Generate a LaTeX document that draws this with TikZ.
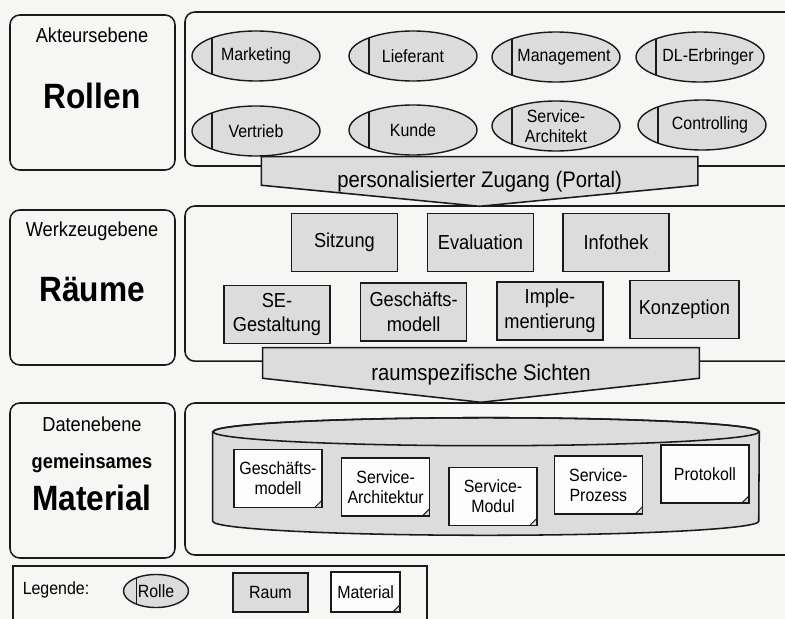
\documentclass[tikz,border=0pt]{standalone}
\usepackage{fontspec}
\setmainfont{Liberation Sans}[FakeStretch=0.9]
\usepackage{xcolor}
\usepackage{tikz}
\usetikzlibrary{shapes.geometric, calc, positioning}
\definecolor{paper}{HTML}{F6F6F4}
\definecolor{lgray}{HTML}{1A1A1A}
\definecolor{raumbg}{HTML}{DCDCDC}
\definecolor{matbg}{HTML}{FDFDFD}
\newcommand{\fsSmall}{\fontsize{12.6}{14.5}\selectfont}
\newcommand{\fsMid}{\fontsize{14.4}{17.5}\selectfont}
\newcommand{\fsBanner}{\fontsize{16}{19}\selectfont}
\newcommand{\fsTitle}{\fontsize{25}{28}\selectfont\bfseries}
\tikzset{
  level/.style={rectangle, rounded corners=7pt, draw=lgray, line width=1.1pt,
    minimum width=4.125cm, minimum height=3.875cm},
  panel/.style={rectangle, rounded corners=7pt, draw=lgray, line width=1.1pt,
    minimum width=15.875cm},
  lvlname/.style={font=\fsMid, inner sep=0pt},
  lvltitle/.style={font=\fsTitle, inner sep=0pt},
  rolle/.style={ellipse, draw=lgray, line width=1pt, fill=raumbg,
    align=center, font=\fsSmall, minimum width=3.2cm, minimum height=1.25cm,
    inner xsep=-2pt, inner ysep=0pt,
    path picture={\draw[lgray, line width=1pt]
      ([xshift=#1]path picture bounding box.north west) --
      ([xshift=#1]path picture bounding box.south west);}},
  rolle/.default=0.5cm,
  rolleshift/.style={inner xsep=-0.25cm, execute at begin node={\hspace*{0.4cm}}},
  raum/.style={rectangle, draw=lgray, line width=1pt, fill=raumbg,
    align=center, font=\fsMid, minimum width=2.65cm, minimum height=1.45cm,
    inner sep=1pt},
  mat/.style={rectangle, draw=lgray, line width=1pt, fill=matbg,
    align=center, font=\fsSmall, minimum width=2.2cm, minimum height=1.45cm,
    inner sep=1pt,
    path picture={
      \fill[raumbg] (path picture bounding box.south east) --
        ([yshift=0.18cm]path picture bounding box.south east) --
        ([xshift=-0.18cm]path picture bounding box.south east) -- cycle;
      \draw[lgray, line width=0.7pt]
        ([yshift=0.18cm]path picture bounding box.south east) --
        ([xshift=-0.18cm]path picture bounding box.south east);}},
  banner/.style={rectangle, minimum width=10.9cm},
  bannerline/.style={draw=lgray, line width=1.1pt, fill=raumbg},
  bannertext/.style={font=\fsBanner, inner sep=0pt},
}

\begin{document}
\begin{tikzpicture}
  \fill[paper] (0,0) rectangle (19.625,-15.475);
  \useasboundingbox (0,0) rectangle (19.625,-15.475);

  % Ebenen links
  \node[level] (lvlakteur) at (2.3125,-2.3125) {};
  \node[level] (lvlwerkzeug) at (2.3125,-7.1875) {};
  \node[level] (lvldaten) at (2.3125,-12.0125) {};
  \node[lvlname] (akteur) at (2.3,-0.875) {Akteursebene};
  \node[lvltitle] (rollen) at (2.3,-2.4) {Rollen};
  \node[lvlname] (werkzeug) at (2.3,-5.78) {Werkzeugebene};
  \node[lvltitle] (raeume) at (2.3,-7.25) {Räume};
  \node[lvlname] (daten) at (2.3,-10.6) {Datenebene};
  \node[lvlname, font=\fsMid\bfseries] (gemeinsam) at (2.3,-11.58) {gemeinsames};
  \node[lvltitle] (material) at (2.3,-12.45) {Material};

  % Panels rechts
  \node[panel, minimum height=3.85cm] (pnlrollen) at (12.5625,-2.225) {};
  \node[panel, minimum height=3.88cm] (pnlraeume) at (12.5625,-7.09) {};
  \node[panel, minimum height=3.8cm] (pnlmaterial) at (12.5625,-11.975) {};

  % Rollen
  \node[rolle] (marketing) at (6.4,-1.4) {Marketing};
  \node[rolle] (lieferant) at (10.325,-1.4) {Lieferant};
  \node[rolle, rolleshift] (management) at (13.9,-1.425) {Management};
  \node[rolle, rolleshift] (dlerbringer) at (17.5,-1.425) {DL-Erbringer};
  \node[rolle] (vertrieb) at (6.4,-3.275) {Vertrieb};
  \node[rolle] (kunde) at (10.325,-3.25) {Kunde};
  \node[rolle] (servarch) at (13.9,-3.15) {Service-\\Architekt};
  \node[rolle, rolleshift] (controlling) at (17.55,-3.125) {Controlling};

  % Zugang
  \node[banner, minimum height=1.225cm] (portal) at (11.99,-4.5375) {};
  \draw[bannerline] (portal.north west) -- (portal.north east)
    -- ([yshift=0.525cm]portal.south east) -- (portal.south)
    -- ([yshift=0.525cm]portal.south west) -- cycle;
  \node[bannertext] (portaltext) at (portal) {personalisierter Zugang (Portal)};

  % Raeume
  \node[raum] (sitzung) at (8.61,-6.06) {Sitzung};
  \node[raum] (evaluation) at (12.01,-6.06) {Evaluation};
  \node[raum] (infothek) at (15.4,-6.06) {Infothek};
  \node[raum] (segestalt) at (6.925,-7.86) {SE-\\Gestaltung};
  \node[raum] (geschmodell) at (10.34,-7.8) {Geschäfts-\\modell};
  \node[raum] (implement) at (13.75,-7.775) {Imple-\\mentierung};
  \node[raum, minimum width=2.725cm] (konzeption) at (17.11,-7.74) {Konzeption};

  % Sichten
  \node[banner, minimum height=1.35cm] (sichten) at (12.025,-9.375) {};
  \draw[bannerline] (sichten.north west) -- (sichten.north east)
    -- ([yshift=0.6cm]sichten.south east) -- (sichten.south)
    -- ([yshift=0.6cm]sichten.south west) -- cycle;
  \node[bannertext] (sichtentext) at (sichten) {raumspezifische Sichten};

  % Materialspeicher
  \node[minimum width=13.65cm, minimum height=2.225cm] (store) at (12.15,-11.9125) {};
  \draw[bannerline] (store.north west) -- (store.south west)
    arc[start angle=180, end angle=360, x radius=6.825cm, y radius=0.35cm]
    -- (store.north east)
    arc[start angle=0, end angle=180, x radius=6.825cm, y radius=0.35cm] -- cycle;
  \draw[lgray, line width=1.1pt] (store.north) ellipse[x radius=6.825cm, y radius=0.35cm];

  \node[mat] (matgm) at (6.95,-11.96) {Geschäfts-\\modell};
  \node[mat] (matsa) at (9.64,-12.175) {Service-\\Architektur};
  \node[mat] (matsm) at (12.325,-12.41) {Service-\\Modul};
  \node[mat] (matsp) at (14.96,-12.125) {Service-\\Prozess};
  \node[mat] (matpr) at (17.625,-11.85) {Protokoll};

  % Legende
  \node[rectangle, draw=lgray, line width=1.1pt, minimum width=10.35cm,
    minimum height=1.9cm] (legende) at (5.5,-15.1) {};
  \node[font=\fsSmall, inner sep=0pt] (legtext) at (1.4,-14.75) {Legende:};
  \node[rolle=0.33cm, minimum width=1.625cm, minimum height=0.825cm] (legrolle)
    at (3.9,-14.775) {Rolle};
  \node[raum, font=\fsSmall, minimum width=1.875cm, minimum height=0.975cm] (legraum)
    at (6.76,-14.81) {Raum};
  \node[mat, minimum width=1.725cm, minimum height=1.0cm] (legmat)
    at (9.14,-14.8) {Material};
\end{tikzpicture}
\end{document}
